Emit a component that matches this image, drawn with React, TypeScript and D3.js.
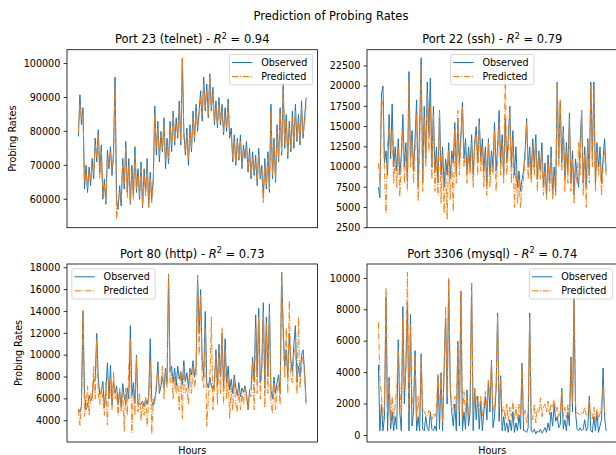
import React, { useMemo } from "react";
import * as d3 from "d3";

// figure layout (px)
const WIDTH = 616;
const HEIGHT = 455;
const AX_W = 250.5;
const AX_H = 178;
const FONT = "DejaVu Sans, Liberation Sans, sans-serif";
const BLUE = "#1f77b4";
const ORANGE = "#ff7f0e";

// ---- Port 23 (telnet)
const telnetObserved = [
  78500, 90800, 82000, 87000, 63000, 70000, 62000, 69500, 64000, 72000,
  66000, 78000, 71000, 80500, 68000, 76000, 60000, 66000, 58500, 74500,
  69000, 75500, 67000, 74000, 96000, 60000, 57000, 64000, 58000, 72000,
  63000, 77000, 62000, 72000, 58500, 70000, 61000, 75500, 62000, 69000,
  60000, 71000, 57500, 69000, 62000, 72000, 58000, 68000, 60000, 66000,
  87500, 73000, 83000, 71000, 80000, 74000, 84000, 69000, 78000, 70500,
  83000, 74000, 86000, 76000, 84000, 78000, 89000, 76000, 101500, 80000,
  73000, 81000, 70000, 82000, 74000, 86000, 77000, 88000, 80000, 86000,
  92000, 83000, 96000, 86000, 94000, 84000, 97000, 86000, 93000, 82000,
  89000, 81000, 90000, 82000, 88000, 79000, 87000, 80000, 89500, 78000,
  81000, 71000, 79000, 70000, 78000, 71500, 79000, 69000, 76000, 72000,
  77000, 68000, 75000, 66000, 74000, 67000, 73000, 64000, 75000, 66000,
  70000, 60500, 72000, 63000, 74000, 62000, 88000, 66000, 78000, 65000,
  82000, 71000, 87000, 73000, 94000, 75000, 85000, 72000, 83000, 74000,
  86000, 75000, 88000, 77000, 85000, 76000, 89000, 78000, 84000, 90000,
];
const telnetPredicted = [
  80000, 88000, 83500, 85000, 65000, 68000, 63500, 68000, 66000, 70000,
  67500, 76000, 72500, 79000, 66000, 74000, 61500, 64000, 59000, 72000,
  70000, 74000, 68500, 72000, 93000, 54000, 59000, 62000, 60000, 70000,
  64500, 75000, 60500, 70000, 59000, 68000, 60000, 73000, 63000, 67000,
  61000, 69000, 58000, 67000, 61000, 70000, 57500, 66000, 59000, 65000,
  85000, 75000, 81000, 73000, 79000, 75000, 82000, 71000, 76000, 72000,
  81000, 76000, 84000, 77000, 82000, 79000, 87000, 77000, 101700, 78000,
  74000, 79000, 72000, 80000, 75000, 84000, 78000, 86000, 81000, 84000,
  90000, 85000, 94000, 87000, 92000, 85000, 96500, 87000, 91000, 83000,
  87000, 82000, 88000, 83000, 86000, 80000, 85000, 81000, 88000, 79000,
  79000, 72000, 77000, 71000, 77000, 72000, 77000, 70000, 74000, 73000,
  75000, 69000, 73000, 67000, 72000, 68000, 71000, 65000, 73000, 67000,
  68000, 59000, 70000, 64000, 72000, 63000, 86000, 67000, 76000, 66000,
  80000, 72000, 85000, 74000, 92000, 76000, 83000, 73000, 81000, 75000,
  84000, 76000, 86000, 78000, 83000, 77000, 87000, 79000, 82000, 88000,
];
const telnetTicks = [60000, 70000, 80000, 90000, 100000];

// ---- Port 22 (ssh)
const sshObserved = [
  7500, 6200, 19000, 20000, 10500, 12000, 9000, 16500, 11000, 17800,
  10000, 12500, 9500, 13500, 9000, 11500, 16500, 10000, 13000, 8200,
  21800, 11000, 14500, 9500, 13500, 18300, 7500, 15000, 23500, 8000,
  17500, 11000, 20500, 14000, 21000, 10000, 17500, 9500, 12500, 8000,
  17000, 9000, 12500, 7500, 11000, 9000, 13000, 8500, 12000, 10500,
  15500, 9000, 16000, 10500, 14000, 18000, 11000, 13500, 9500, 12500,
  10000, 14000, 9000, 13000, 15000, 10500, 16000, 11000, 13500, 9500,
  12500, 8000, 13500, 9000, 12000, 10000, 15500, 9500, 12500, 17000,
  10500, 14000, 9000, 16000, 10500, 13500, 17500, 10000, 14500, 9000,
  12500, 7500, 9500, 7000, 8500, 9500, 12000, 16000, 10000, 12500,
  9000, 13500, 10000, 14000, 8500, 12000, 9500, 13000, 7500, 10500,
  6500, 11500, 8000, 12500, 6500, 10000, 7000, 20500, 11000, 18000,
  10500, 15000, 8500, 13000, 9500, 16700, 8000, 12000, 6500, 11000,
  9000, 7500, 13000, 17000, 8000, 12500, 7500, 13500, 9000, 20500,
  11000, 20500, 8000, 13000, 10000, 12500, 8000, 11000, 13500, 9500,
];
const sshPredicted = [
  10500, 8000, 18500, 17500, 9000, 4300, 13000, 15000, 12000, 14500,
  8000, 11000, 7500, 12500, 6300, 10500, 14500, 8000, 12000, 7000,
  20500, 10000, 13500, 8000, 12000, 16500, 5800, 13000, 22500, 7000,
  16000, 10000, 19000, 12000, 17500, 8500, 16500, 7000, 11000, 6500,
  17000, 5500, 11500, 4300, 10000, 3500, 12000, 6000, 11000, 4500,
  14500, 8000, 17000, 9000, 13000, 17500, 10000, 12000, 8000, 11500,
  9000, 13000, 7500, 12500, 14000, 9000, 15500, 9500, 12500, 7500,
  11500, 6500, 13000, 7500, 11000, 9000, 14500, 7000, 11000, 15500,
  9000, 13000, 8000, 22000, 9000, 12000, 17000, 8000, 13500, 5000,
  10000, 5500, 8500, 5000, 7500, 8500, 11000, 15500, 8500, 11500,
  8000, 12500, 9000, 13000, 7000, 11500, 8500, 12000, 6500, 9500,
  6000, 10500, 7000, 11500, 6000, 9000, 6500, 20500, 10000, 18300,
  9500, 14500, 7000, 12000, 8000, 16000, 7000, 11000, 5500, 10000,
  8000, 13000, 9000, 17000, 6500, 11500, 5000, 13000, 8000, 20000,
  10000, 19500, 7000, 12000, 9000, 11000, 6500, 10000, 12000, 9000,
];
const sshTicks = [2500, 5000, 7500, 10000, 12500, 15000, 17500, 20000, 22500];

// ---- Port 80 (http)
const httpObserved = [
  5100, 4800, 5300, 14000, 6500, 5000, 5400, 6300, 5800, 6200,
  7800, 7700, 12000, 8000, 6400, 6600, 7600, 5200, 6800, 9300,
  6000, 9100, 5400, 7600, 6500, 7200, 5500, 6800, 5300, 7400,
  6200, 5500, 7000, 6000, 12700, 6300, 7500, 5600, 10000, 5400,
  5600, 5500, 5800, 5300, 6000, 5500, 6200, 11500, 5800, 5400,
  6000, 6800, 9400, 6500, 7200, 8000, 7000, 8800, 7500, 17400,
  8500, 9000, 7500, 8800, 7200, 9000, 7800, 8500, 7300, 9500,
  7600, 8400, 7000, 8800, 8200, 9500, 8000, 9000, 17300, 12000,
  16000, 9500, 8000, 14000, 7500, 7000, 8000, 7200, 6800, 7500,
  10500, 7200, 11000, 8000, 12000, 7000, 11500, 7500, 9000, 6800,
  7800, 6500, 8200, 7000, 6300, 7500, 6200, 7000, 6600, 7200,
  6500, 5000, 6800, 7000, 9800, 7600, 13700, 8000, 14300, 7500,
  9000, 14800, 7000, 13500, 8000, 14700, 6800, 6000, 8000, 6500,
  7500, 8200, 6500, 17600, 12500, 9000, 10500, 8000, 12000, 9500,
  8500, 11000, 12700, 7500, 9000, 8000, 10000, 10500, 8500, 5700,
];
const httpPredicted = [
  5000, 3600, 5500, 14100, 4400, 5200, 7200, 4500, 6500, 5800,
  9000, 6000, 11500, 6500, 5500, 7000, 6000, 4500, 7500, 3600,
  8000, 7500, 5000, 8500, 6000, 6500, 4500, 7000, 4800, 6500,
  3000, 7000, 4500, 9000, 11500, 2900, 7000, 4500, 9800, 4800,
  6500, 4000, 5500, 4500, 6200, 3500, 6000, 9500, 2800, 6000,
  5500, 7500, 8500, 7000, 7500, 9000, 6000, 8500, 7000, 17300,
  7500, 8500, 6000, 8000, 6500, 7500, 5000, 8500, 4200, 9000,
  6500, 7000, 5500, 8500, 6500, 9000, 7000, 8000, 17200, 10000,
  15500, 8000, 7000, 12500, 3500, 6000, 7500, 13500, 5000, 7000,
  10000, 5500, 10500, 6500, 12500, 5500, 10500, 6000, 8000, 4200,
  7000, 5000, 7500, 5500, 4800, 7000, 5000, 6500, 5500, 7000,
  6000, 5000, 6500, 6200, 9500, 5000, 12500, 6500, 13500, 6000,
  8500, 14000, 5200, 13000, 6500, 14000, 5500, 4700, 7500, 5000,
  6500, 7500, 5500, 17500, 11500, 8000, 12500, 6500, 15000, 8000,
  7500, 10000, 11000, 6500, 13500, 7000, 9000, 10000, 8000, 5500,
];
const httpTicks = [4000, 6000, 8000, 10000, 12000, 14000, 16000, 18000];

// ---- Port 3306 (mysql)
const mysqlObserved = [
  4500, 300, 2000, 300, 1200, 8800, 300, 3700, 400, 1500,
  300, 1200, 400, 6100, 1500, 300, 8200, 2000, 4500, 8500,
  300, 7700, 600, 1500, 5400, 300, 1200, 300, 5200, 400,
  300, 1200, 500, 300, 1500, 400, 300, 600, 300, 3800,
  400, 4000, 300, 4300, 7500, 2000, 9900, 3000, 1500, 600,
  2000, 300, 6000, 600, 9200, 300, 1500, 400, 2900, 600,
  1500, 9700, 300, 3000, 1000, 2500, 400, 2200, 300, 1500,
  2500, 1000, 3500, 1500, 4800, 500, 1200, 2900, 7800, 900,
  3800, 300, 1200, 300, 800, 200, 1000, 300, 1500, 200,
  800, 300, 1300, 400, 4600, 300, 300, 200, 500, 7800,
  300, 200, 400, 100, 300, 200, 400, 150, 300, 500,
  200, 800, 300, 1500, 600, 2000, 900, 1200, 500, 700,
  3000, 400, 1000, 300, 1500, 600, 5000, 1500, 8800, 1500,
  400, 300, 500, 300, 400, 1000, 300, 500, 2500, 300,
  200, 1200, 300, 1500, 200, 600, 1000, 4300, 1200, 300,
];
const mysqlPredicted = [
  7200, 3600, 2500, 1000, 2000, 9400, 1500, 3500, 800, 2500,
  1000, 2000, 3000, 5500, 3200, 1200, 7500, 3000, 4300, 10400,
  1500, 7000, 2000, 2500, 5000, 1000, 2500, 900, 5000, 1800,
  1500, 1300, 1200, 1600, 1500, 1000, 1400, 1200, 1800, 3900,
  1500, 3800, 800, 4000, 8200, 2500, 10000, 3500, 1500, 1800,
  2500, 1500, 5800, 1500, 9200, 1200, 2800, 1500, 2500, 1200,
  2500, 9700, 1500, 2900, 2500, 2000, 1500, 2500, 1200, 2000,
  2800, 1800, 3500, 2400, 4600, 1500, 2000, 2900, 7600, 1800,
  3600, 1500, 1800, 1000, 2000, 900, 1800, 1200, 2200, 1000,
  1800, 1000, 2000, 1300, 4500, 1000, 1600, 800, 1500, 7500,
  1500, 1000, 2000, 800, 1700, 1500, 2400, 1200, 1800, 2000,
  1500, 2200, 1300, 2000, 1800, 2300, 1500, 1800, 1200, 1600,
  2900, 1200, 1800, 1100, 2000, 1400, 4800, 2000, 8600, 2000,
  1400, 1400, 1300, 1500, 1400, 1800, 1300, 1400, 2300, 1200,
  1000, 1800, 900, 1700, 1000, 1400, 2000, 3200, 1500, 1300,
];
const mysqlTicks = [0, 2000, 4000, 6000, 8000, 10000];

const seriesLabels = ["Observed", "Predicted"];

type LegendLoc = "upper right" | "upper center" | "upper left";

type PanelProps = {
  id: string;
  x0: number;
  y0: number;
  port: string;
  r2: string;
  observed: number[];
  predicted: number[];
  ticks: number[];
  legend: LegendLoc;
  ylabelX?: number;
  xlabel?: boolean;
};

const Panel = ({ id, x0, y0, port, r2, observed, predicted, ticks, legend, ylabelX, xlabel }: PanelProps) => {
  const n = observed.length;
  const xScale = useMemo(() => {
    const pad = (n - 1) * 0.05;
    return d3.scaleLinear().domain([-pad, n - 1 + pad]).range([x0, x0 + AX_W]);
  }, [n, x0]);

  const yScale = useMemo(() => {
    const lo = d3.min([...observed, ...predicted]) || 0;
    const hi = d3.max([...observed, ...predicted]) || 1;
    const pad = (hi - lo) * 0.05;
    return d3.scaleLinear().domain([lo - pad, hi + pad]).range([y0 + AX_H, y0]);
  }, [observed, predicted, y0]);

  const line = d3
    .line<number>()
    .x((_, i) => xScale(i))
    .y((d) => yScale(d));

  // legend box
  const boxW = 83.3;
  const boxH = 30.2;
  let bx = x0 + AX_W - 4.8 - boxW;
  if (legend === "upper center") bx = x0 + AX_W / 2 - boxW / 2;
  if (legend === "upper left") bx = x0 + 4.8;
  const by = y0 + 4.8;

  return (
    <g>
      <defs>
        <clipPath id={`clip-${id}`}>
          <rect x={x0} y={y0} width={AX_W} height={AX_H} />
        </clipPath>
      </defs>
      <g clipPath={`url(#clip-${id})`}>
        <path d={line(observed) || ""} fill="none" stroke={BLUE} strokeWidth={1} strokeLinejoin="round" />
        <path
          d={line(predicted) || ""}
          fill="none"
          stroke={ORANGE}
          strokeWidth={1}
          strokeDasharray="6.4,1.6,1,1.6"
          strokeLinejoin="round"
        />
      </g>
      <rect x={x0} y={y0} width={AX_W} height={AX_H} fill="none" stroke="#000" strokeWidth={0.8} />

      {/* y axis */}
      {ticks.map((t) => (
        <g key={t} transform={`translate(0,${yScale(t)})`}>
          <line x1={x0 - 3.4} x2={x0} stroke="#000" strokeWidth={0.8} />
          <text x={x0 - 6.7} dy="0.34em" textAnchor="end" fontSize={9.6} fill="#000">
            {t}
          </text>
        </g>
      ))}

      {/* title */}
      <text x={x0 + AX_W / 2} y={y0 - 6.3} textAnchor="middle" fontSize={11.5} fill="#000">
        {port} - <tspan fontStyle="italic">R</tspan>
        <tspan fontSize={8} dy={-4.6}>2</tspan>
        <tspan dy={4.6}> = {r2}</tspan>
      </text>

      {ylabelX !== undefined && (
        <text
          transform={`translate(${ylabelX},${y0 + AX_H / 2}) rotate(-90)`}
          textAnchor="middle"
          fontSize={9.6}
          fill="#000"
        >
          Probing Rates
        </text>
      )}
      {xlabel && (
        <text x={x0 + AX_W / 2} y={y0 + AX_H + 11.5} textAnchor="middle" fontSize={9.6} fill="#000">
          Hours
        </text>
      )}

      {/* legend */}
      <rect x={bx} y={by} width={boxW} height={boxH} rx={2} fill="#fff" fillOpacity={0.8} stroke="#cccccc" strokeWidth={0.8} />
      {seriesLabels.map((lab, i) => {
        const cy = by + 8 + i * 14;
        return (
          <g key={lab}>
            <line
              x1={bx + 2.6}
              x2={bx + 23}
              y1={cy}
              y2={cy}
              stroke={i === 0 ? BLUE : ORANGE}
              strokeWidth={1}
              strokeDasharray={i === 0 ? undefined : "6.4,1.6,1,1.6"}
            />
            <text x={bx + 31.8} y={cy} dy="0.36em" fontSize={9.6} fill="#000">
              {lab}
            </text>
          </g>
        );
      })}
    </g>
  );
};

export default function App() {
  return (
    <svg
      width={WIDTH}
      height={HEIGHT}
      style={{ position: "absolute", left: 0, top: 0, background: "#fff" }}
      fontFamily={FONT}
    >
      <rect width={WIDTH} height={HEIGHT} fill="#fff" />
      <text x={331} y={19.5} textAnchor="middle" fontSize={11.5} fill="#000">
        Prediction of Probing Rates
      </text>
      <Panel id="telnet" x0={67} y0={49.7} port="Port 23 (telnet)" r2="0.94" observed={telnetObserved} predicted={telnetPredicted} ticks={telnetTicks} legend="upper right" ylabelX={15.5} />
      <Panel id="ssh" x0={367} y0={49.7} port="Port 22 (ssh)" r2="0.79" observed={sshObserved} predicted={sshPredicted} ticks={sshTicks} legend="upper center" />
      <Panel id="http" x0={67} y0={264} port="Port 80 (http)" r2="0.73" observed={httpObserved} predicted={httpPredicted} ticks={httpTicks} legend="upper left" ylabelX={22} xlabel />
      <Panel id="mysql" x0={367} y0={264} port="Port 3306 (mysql)" r2="0.74" observed={mysqlObserved} predicted={mysqlPredicted} ticks={mysqlTicks} legend="upper right" xlabel />
    </svg>
  );
}
